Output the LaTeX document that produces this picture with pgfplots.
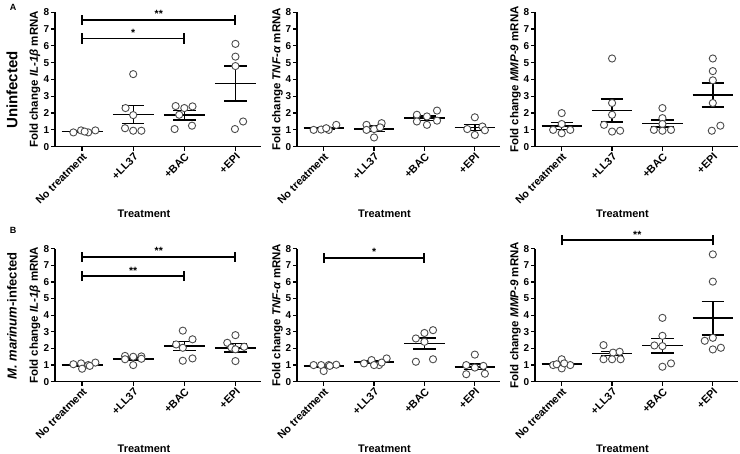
\documentclass[border=0pt]{standalone}
\usepackage{fontspec}
\setmainfont{Liberation Sans}
\usepackage{pgfplots}
\usepackage{pgfplotstable}
\pgfplotsset{compat=1.18}
\pgfplotsset{
 panel/.style={
  scale only axis, axis lines=left, axis line style={-, line width=1.4pt},
  xmin=-0.53, xmax=3.5, ymin=0, ymax=8, ytick={0,1,...,8},
  xtick={0,1,2,3}, xticklabels={No treatment,+LL37,+BAC,+EPI},
  /pgf/number format/assume math mode=true,
  x tick label style={rotate=45, anchor=north east, inner sep=1pt, font=\fontsize{10.8}{11}\selectfont\bfseries},
  y tick label style={inner sep=1.5pt, font=\fontsize{10}{10}\selectfont\bfseries},
  tick align=outside, major tick length=4pt, tick style={line width=1.2pt, black},
  xlabel={Treatment},
  xlabel style={at={(axis description cs:0.5,0)}, anchor=center, yshift=-67pt, xshift=-14pt, font=\fontsize{11}{12}\selectfont\bfseries},
  ylabel style={at={(axis description cs:-0.097,0.5)}, anchor=center, font=\fontsize{11.5}{12}\selectfont\bfseries},
  clip=false,
 },
 pts/.style={only marks, mark=*, mark size=3.6pt, mark options={draw=black!70, fill=white, line width=0.9pt}},
 seg/.style={black, line width=1.6pt, mark=none, -},
}
\tikzset{brk/.style={black, line width=1.9pt}}
\newcommand\sig[1]{\fontsize{10.5}{10}\selectfont\bfseries #1}
% mean and SEM of each group: x, mean, sem
\pgfplotstableread{
x m s
0 0.91 0.03
1 1.92 0.54
2 1.87 0.27
3 3.77 1.04
}\tA
\pgfplotstableread{
x m s
0 1.10 0.05
1 1.07 0.17
2 1.70 0.13
3 1.15 0.18
}\tB
\pgfplotstableread{
x m s
0 1.23 0.21
1 2.15 0.68
2 1.38 0.21
3 3.08 0.72
}\tC
\pgfplotstableread{
x m s
0 1.00 0.05
1 1.38 0.08
2 2.14 0.28
3 2.04 0.25
}\tD
\pgfplotstableread{
x m s
0 0.95 0.06
1 1.18 0.07
2 2.30 0.33
3 0.90 0.17
}\tE
\pgfplotstableread{
x m s
0 1.07 0.08
1 1.70 0.13
2 2.17 0.44
3 3.82 1.00
}\tF
\newcommand\meansem[1]{%
\addplot[seg, quiver={u=0.8,v=0}] table[x expr=\thisrow{x}-0.4, y=m] {#1};
\addplot[seg, line width=1.4pt, quiver={u=0,v=2*\thisrow{s}}] table[x=x, y expr=\thisrow{m}-\thisrow{s}] {#1};
\addplot[seg, line width=1.4pt, quiver={u=0.44,v=0}] table[x expr=\thisrow{x}-0.22, y expr=\thisrow{m}+\thisrow{s}] {#1};
\addplot[seg, line width=1.4pt, quiver={u=0.44,v=0}] table[x expr=\thisrow{x}-0.22, y expr=\thisrow{m}-\thisrow{s}] {#1};
}
\begin{document}
\bfseries
\begin{tikzpicture}
\useasboundingbox (0pt,0pt) rectangle (740pt,454pt);
% ---------- Row 1 ----------
\begin{axis}[panel, at={(55pt,307.3pt)}, anchor=south west, width=206pt, height=134.4pt,
  ylabel={Fold change \textit{IL-1β} mRNA}]
\addplot[pts] coordinates {(-0.17,0.85) (-0.02,0.97) (0.12,0.85) (0.26,0.97) (0.05,0.9)
 (1.0,4.32) (0.85,2.3) (1.0,1.88) (0.84,1.1) (1.0,0.95) (1.16,0.95)
 (1.83,2.42) (2.0,2.3) (2.16,2.4) (1.9,1.9) (1.81,1.05) (2.15,1.25)
 (3.0,6.12) (3.0,5.36) (3.0,4.8) (2.99,1.05) (3.15,1.5)};
\meansem{\tA}
\draw[brk] (axis cs:0,7.25)--(axis cs:0,7.85) (axis cs:0,7.55)--(axis cs:3,7.55) (axis cs:3,7.25)--(axis cs:3,7.85);
\node[anchor=south, inner sep=1pt] at (axis cs:1.5,7.6) {\sig{**}};
\draw[brk] (axis cs:0,6.14)--(axis cs:0,6.74) (axis cs:0,6.44)--(axis cs:2,6.44) (axis cs:2,6.14)--(axis cs:2,6.74);
\node[anchor=south, inner sep=1pt] at (axis cs:1,6.49) {\sig{*}};
\end{axis}
\begin{axis}[panel, at={(297pt,307.3pt)}, anchor=south west, width=203pt, height=134.4pt,
  ylabel={Fold change \textit{TNF-α} mRNA}]
\addplot[pts] coordinates {(-0.2,1.0) (-0.05,1.02) (0.1,1.0) (0.25,1.3) (0.05,1.1)
 (0.85,1.3) (1.0,1.05) (1.15,1.4) (1.0,0.55) (0.85,1.0) (1.12,1.15)
 (1.85,1.9) (2.05,1.8) (2.25,2.15) (1.85,1.5) (2.05,1.3) (2.25,1.55)
 (3.0,1.75) (3.15,1.2) (2.85,1.05) (3.0,0.7) (3.2,0.98)};
\meansem{\tB}
\end{axis}
\begin{axis}[panel, at={(535pt,307.3pt)}, anchor=south west, width=203pt, height=134.4pt,
  ylabel={Fold change \textit{MMP-9} mRNA}]
\addplot[pts] coordinates {(0,2.0) (0,1.35) (-0.17,1.0) (0.17,1.0) (0,0.8)
 (1,5.25) (1,2.6) (1,1.9) (0.84,1.3) (1,0.9) (1.16,0.95)
 (2,2.3) (2,1.7) (2,1.35) (1.83,1.0) (2,0.95) (2.17,1.0)
 (3,5.25) (3,4.5) (3,3.95) (3,2.6) (2.98,0.95) (3.15,1.25)};
\meansem{\tC}
\end{axis}
% ---------- Row 2 ----------
\begin{axis}[panel, at={(55pt,72.3pt)}, anchor=south west, width=206pt, height=133pt,
  ylabel={Fold change \textit{IL-1β} mRNA}]
\addplot[pts] coordinates {(-0.17,1.05) (-0.02,1.1) (0.12,1.0) (0.26,1.15) (0,0.78) (0.15,0.95)
 (0.84,1.55) (1,1.5) (1.16,1.52) (0.84,1.35) (1,1.0) (1.16,1.38)
 (1.97,3.07) (2.16,2.55) (1.84,2.24) (1.97,2.04) (1.97,1.26) (2.16,1.4)
 (3,2.8) (2.84,2.34) (2.92,2.05) (3.17,2.1) (3.0,1.95) (3,1.24)};
\meansem{\tD}
\draw[brk] (axis cs:0,7.2)--(axis cs:0,7.8) (axis cs:0,7.5)--(axis cs:3,7.5) (axis cs:3,7.2)--(axis cs:3,7.8);
\node[anchor=south, inner sep=1pt] at (axis cs:1.5,7.55) {\sig{**}};
\draw[brk] (axis cs:0,6.05)--(axis cs:0,6.65) (axis cs:0,6.35)--(axis cs:2,6.35) (axis cs:2,6.05)--(axis cs:2,6.65);
\node[anchor=south, inner sep=1pt] at (axis cs:1,6.4) {\sig{**}};
\end{axis}
\begin{axis}[panel, at={(297pt,72.3pt)}, anchor=south west, width=203pt, height=133pt,
  ylabel={Fold change \textit{TNF-α} mRNA}]
\addplot[pts] coordinates {(-0.2,1.0) (-0.05,1.0) (0.1,1.0) (0.25,1.02) (0,0.64) (0.12,0.95)
 (0.8,1.1) (0.95,1.3) (1.1,1.0) (1.25,1.4) (1,1.0) (1.15,1.15)
 (1.83,2.6) (2,2.93) (2.17,3.1) (2,2.4) (1.83,1.2) (2.17,1.35)
 (3,1.63) (2.83,1.0) (3.17,0.95) (2.83,0.45) (3.2,0.48) (3,0.85)};
\meansem{\tE}
\draw[brk] (axis cs:0,7.16)--(axis cs:0,7.76) (axis cs:0,7.46)--(axis cs:2,7.46) (axis cs:2,7.16)--(axis cs:2,7.76);
\node[anchor=south, inner sep=1pt] at (axis cs:1,7.51) {\sig{*}};
\end{axis}
\begin{axis}[panel, at={(535pt,72.3pt)}, anchor=south west, width=203pt, height=133pt,
  ylabel={Fold change \textit{MMP-9} mRNA}]
\addplot[pts] coordinates {(0,1.35) (-0.17,1.0) (0.17,1.0) (0,0.8) (0.05,1.1) (-0.1,1.05)
 (0.83,2.2) (1.02,1.75) (1.15,1.8) (0.83,1.35) (1,1.35) (1.17,1.35)
 (2,3.84) (2,2.76) (1.84,2.18) (2,2.14) (2,0.9) (2.17,1.1)
 (3,7.66) (3,6.02) (2.84,2.46) (3,2.64) (3,1.94) (3.16,2.04)};
\meansem{\tF}
\draw[brk] (axis cs:0,8.2)--(axis cs:0,8.8) (axis cs:0,8.5)--(axis cs:3,8.5) (axis cs:3,8.2)--(axis cs:3,8.8);
\node[anchor=south, inner sep=1pt] at (axis cs:1.5,8.55) {\sig{**}};
\end{axis}
% ---------- Row labels ----------
\node[rotate=90, font=\fontsize{15}{16}\selectfont\bfseries] at (12pt,364pt) {Uninfected};
\node[rotate=90, font=\fontsize{13}{15}\selectfont\bfseries] at (12pt,138pt) {\textit{M. marinum}-infected};
\node[font=\fontsize{9}{10}\selectfont\bfseries] at (13pt,447pt) {A};
\node[font=\fontsize{9}{10}\selectfont\bfseries] at (13pt,224pt) {B};
\end{tikzpicture}
\end{document}
